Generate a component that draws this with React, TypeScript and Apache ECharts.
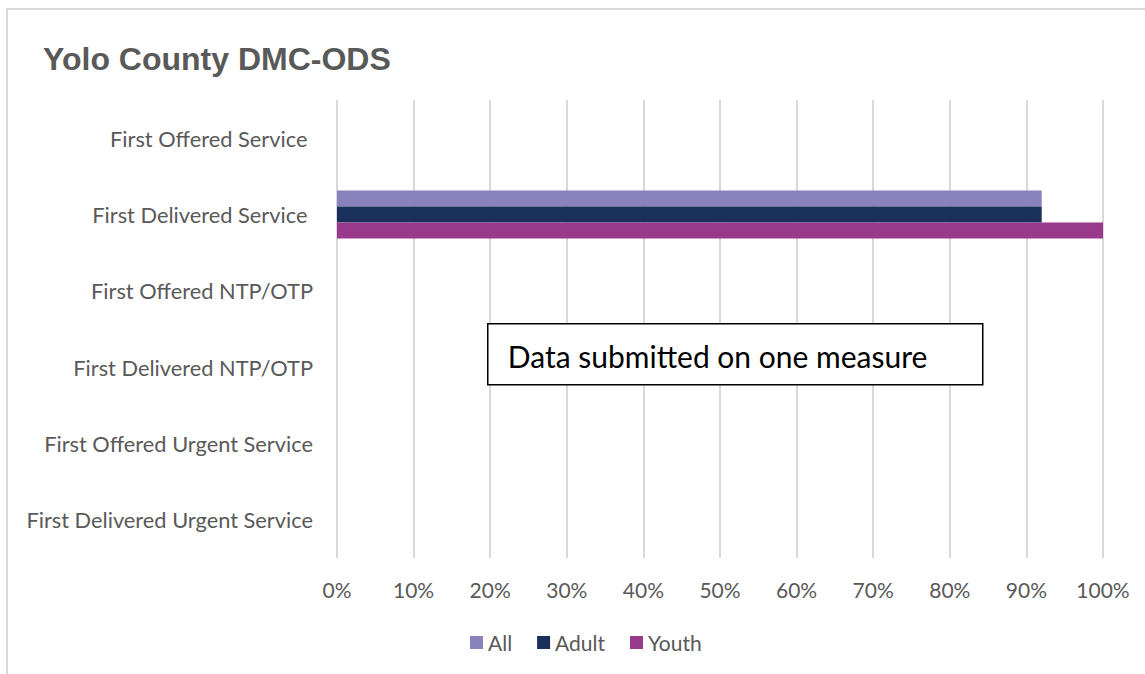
import React, { useEffect, useRef } from "react";
import * as echarts from "echarts";

const categories = [
  "First Offered Service ",
  "First Delivered Service ",
  "First Offered NTP/OTP",
  "First Delivered NTP/OTP",
  "First Offered Urgent Service",
  "First Delivered Urgent Service",
];

const allValues = [null, 92, null, null, null, null];
const adultValues = [null, 92, null, null, null, null];
const youthValues = [null, 100, null, null, null, null];

const seriesNames = ["All", "Adult", "Youth"];
const seriesColors = ["#8882BD", "#18305A", "#98398C"];

const titleText = "Yolo County DMC-ODS";
const noteText = "Data submitted on one measure";

const FONT = "Lato, 'Open Sans', sans-serif";
const GRAY = "#595959";

export default function App() {
  const ref = useRef<HTMLDivElement>(null);

  useEffect(() => {
    if (!ref.current) return;
    const chart = echarts.init(ref.current, undefined, { renderer: "svg" });
    const values = [allValues, adultValues, youthValues];
    chart.setOption({
      animation: false,
      backgroundColor: "#ffffff",
      title: {
        text: titleText,
        left: 38,
        top: 38,
        textStyle: {
          fontFamily: "'Liberation Sans', Arial, sans-serif",
          fontWeight: "bold",
          fontSize: 32,
          color: GRAY,
        },
      },
      legend: {
        data: seriesNames,
        bottom: 16,
        left: 465,
        itemWidth: 13,
        itemHeight: 13,
        itemGap: 25,
        icon: "rect",
        textStyle: { fontFamily: FONT, fontSize: 21, color: GRAY },
      },
      grid: { left: 337, right: 42, top: 100, bottom: 116, containLabel: false },
      xAxis: {
        type: "value",
        min: 0,
        max: 100,
        interval: 10,
        axisLine: { show: false },
        axisTick: { show: false },
        axisLabel: {
          formatter: "{value}%",
          fontFamily: FONT,
          fontSize: 21,
          color: GRAY,
          margin: 21,
        },
        splitLine: { lineStyle: { color: "#D9D9D9", width: 2 } },
      },
      yAxis: {
        type: "category",
        data: categories,
        inverse: true,
        axisLine: { show: false },
        axisTick: { show: false },
        axisLabel: {
          fontFamily: FONT,
          fontSize: 21.8,
          color: GRAY,
          margin: 24,
        },
      },
      series: seriesNames.map((name, i) => ({
        name,
        type: "bar",
        data: values[i],
        itemStyle: { color: seriesColors[i] },
        barGap: "0%",
        barCategoryGap: "37%",
      })),
      graphic: [
        {
          type: "rect",
          silent: true,
          z: 100,
          shape: { x: 7, y: 9, width: 1160, height: 700 },
          style: { fill: "none", stroke: "#D9D9D9", lineWidth: 2 },
        },
        {
          type: "group",
          left: 487,
          top: 323,
          z: 100,
          children: [
            {
              type: "rect",
              z: 100,
              shape: { x: 0, y: 0, width: 495, height: 61 },
              style: { fill: "#ffffff", stroke: "#000000", lineWidth: 1.5 },
            },
            {
              type: "text",
              z: 101,
              x: 20,
              y: 32,
              style: {
                text: noteText,
                fontFamily: FONT,
                fontSize: 30,
                fill: "#000000",
                verticalAlign: "middle",
                align: "left",
              },
            },
          ],
        },
      ],
    });
    return () => chart.dispose();
  }, []);

  return (
    <div
      ref={ref}
      style={{ position: "absolute", left: 0, top: 0, width: 1145, height: 674 }}
    />
  );
}
